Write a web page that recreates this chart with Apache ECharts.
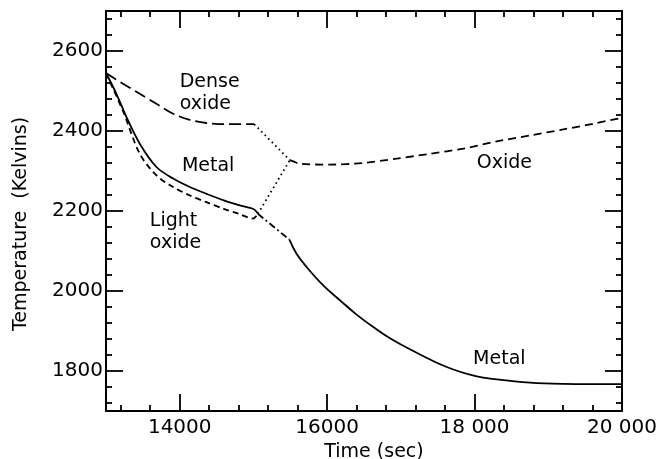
<!DOCTYPE html>
<html>
<head>
<meta charset="utf-8">
<script src="https://cdn.jsdelivr.net/npm/echarts@6/dist/echarts.min.js"></script>
<style>
  html, body { margin: 0; padding: 0; background: #fff; }
  #chart { width: 664px; height: 459px; }
</style>
</head>
<body>
<div id="chart"></div>
<script>
// Cooling curves after the melt splits into oxide and metal layers (time in s, temperature in K)
const metalEarly = [
  [13000, 2545], [13141, 2493], [13277, 2435], [13458, 2368], [13684, 2310],
  [13910, 2281], [14136, 2260], [14363, 2243], [14589, 2227], [14815, 2214],
  [15000, 2205], [15060, 2194]
];
const lightOxide = [
  [13000, 2545], [13230, 2450], [13458, 2343], [13684, 2289], [13910, 2260],
  [14136, 2239], [14363, 2222], [14589, 2206], [14800, 2193], [14996, 2181],
  [15060, 2193]
];
const denseOxide = [
  [13000, 2545], [13231, 2518], [13458, 2493], [13684, 2468], [13910, 2443],
  [14136, 2428], [14363, 2420], [14589, 2417], [15010, 2417]
];
const denseToOxide = [[15010, 2417], [15494, 2327]];
const junctionToOxide = [[15060, 2193], [15494, 2327]];
const junctionToMetal = [[15060, 2193], [15490, 2128]];
const metalLate = [
  [15490, 2128], [15585, 2093], [15721, 2060], [15947, 2014], [16173, 1977],
  [16400, 1941], [16626, 1910], [16852, 1882], [17169, 1850], [17622, 1810],
  [18016, 1787], [18301, 1779], [18753, 1771], [19205, 1768], [20000, 1767]
];
const oxide = [
  [15494, 2327], [15540, 2324], [15630, 2318], [16037, 2316], [16489, 2320],
  [16943, 2331], [17396, 2343], [17847, 2356], [18301, 2374], [18753, 2389],
  [19205, 2404], [19658, 2420], [20000, 2433]
];

// Curve annotations: [time, temperature, text]
const annotations = [
  [14000, 2495, 'Dense\noxide'],
  [14030, 2312, 'Metal'],
  [13595, 2148, 'Light\noxide'],
  [18030, 2320, 'Oxide'],
  [17980, 1830, 'Metal']
];

// Axis ticks and labels
const xMajor = [14000, 16000, 18000, 20000];
const xMajorText = ['14000', '16000', '18 000', '20 000'];
const xMinor = [13200, 13600, 14400, 14800, 15200, 15600, 16400, 16800,
                17200, 17600, 18400, 18800, 19200, 19600];
const yMajor = [1800, 2000, 2200, 2400, 2600];
const yMajorText = ['1800', '2000', '2200', '2400', '2600'];
const yMinor = [1720, 1760, 1840, 1880, 1920, 1960, 2040, 2080, 2120, 2160,
                2240, 2280, 2320, 2360, 2440, 2480, 2520, 2560, 2640, 2680];

const FONT = 'DejaVu Sans';
const INK = '#000';

function frameAxis(pos, range, ticks, len, withLine) {
  return {
    type: 'value', position: pos, min: range[0], max: range[1], offset: 0,
    axisLine: { show: withLine, lineStyle: { color: INK, width: 2 } },
    axisTick: { show: true, inside: true, length: len, customValues: ticks,
                lineStyle: { color: INK, width: 1.8 } },
    axisLabel: { show: false },
    splitLine: { show: false }
  };
}

const xRange = [13000, 20000];
const yRange = [1700, 2700];

const xBottom = frameAxis('bottom', xRange, xMajor, 17, true);
xBottom.axisLabel = {
  show: true, customValues: xMajor, margin: 7,
  formatter: v => xMajorText[xMajor.indexOf(v)],
  fontFamily: FONT, fontSize: 20, color: INK
};
xBottom.name = 'Time (sec)';
xBottom.nameLocation = 'middle';
xBottom.nameGap = 29;
xBottom.nameTextStyle = { fontFamily: FONT, fontSize: 19, color: INK, padding: [0, 0, 0, 20] };

const yLeft = frameAxis('left', yRange, yMajor, 17, true);
yLeft.axisLabel = {
  show: true, customValues: yMajor, margin: 3,
  formatter: v => yMajorText[yMajor.indexOf(v)],
  fontFamily: FONT, fontSize: 20, color: INK
};
yLeft.name = 'Temperature  (Kelvins)';
yLeft.nameLocation = 'middle';
yLeft.nameRotate = 90;
yLeft.nameGap = 75;
yLeft.nameTextStyle = { fontFamily: FONT, fontSize: 19, color: INK, padding: [0, 26, 0, 0] };

function line(data, dash, smooth) {
  return {
    type: 'line', data: data, xAxisIndex: 0, yAxisIndex: 0,
    showSymbol: false, symbol: 'none', smooth: smooth == null ? 0.2 : smooth,
    lineStyle: { color: INK, width: 1.8, type: dash || 'solid' },
    silent: true, animation: false
  };
}

const option = {
  animation: false,
  backgroundColor: '#fff',
  grid: { left: 106, top: 11, width: 516, height: 400, containLabel: false, outerBoundsMode: 'none' },
  xAxis: [
    xBottom,
    frameAxis('bottom', xRange, xMinor, 6, false),
    frameAxis('top', xRange, xMajor, 17, true),
    frameAxis('top', xRange, xMinor, 6, false)
  ],
  yAxis: [
    yLeft,
    frameAxis('left', yRange, yMinor, 6, false),
    frameAxis('right', yRange, yMajor, 17, true),
    frameAxis('right', yRange, yMinor, 6, false)
  ],
  series: [
    line(metalEarly, null, 0.3),
    line(lightOxide, [6, 4], 0.3),
    line(denseOxide, [12, 5], 0.3),
    line(denseToOxide, [1.6, 3.4], 0),
    line(junctionToOxide, [1.6, 3.4], 0),
    line(junctionToMetal, [7, 3, 2, 3], 0),
    line(metalLate, null, 0.4),
    line(oxide, [8, 5], 0.3),
    {
      type: 'scatter', xAxisIndex: 0, yAxisIndex: 0, silent: true,
      symbolSize: 0, itemStyle: { color: INK, opacity: 1 },
      data: annotations.map(a => ({ value: [a[0], a[1]], name: a[2] })),
      label: {
        show: true, position: [0, 0], align: 'left', verticalAlign: 'middle',
        formatter: p => p.name, opacity: 1,
        fontFamily: FONT, fontSize: 19, lineHeight: 22, color: INK
      }
    }
  ]
};

const chart = echarts.init(document.getElementById('chart'), null, { renderer: 'canvas' });
chart.setOption(option);
</script>
</body>
</html>
